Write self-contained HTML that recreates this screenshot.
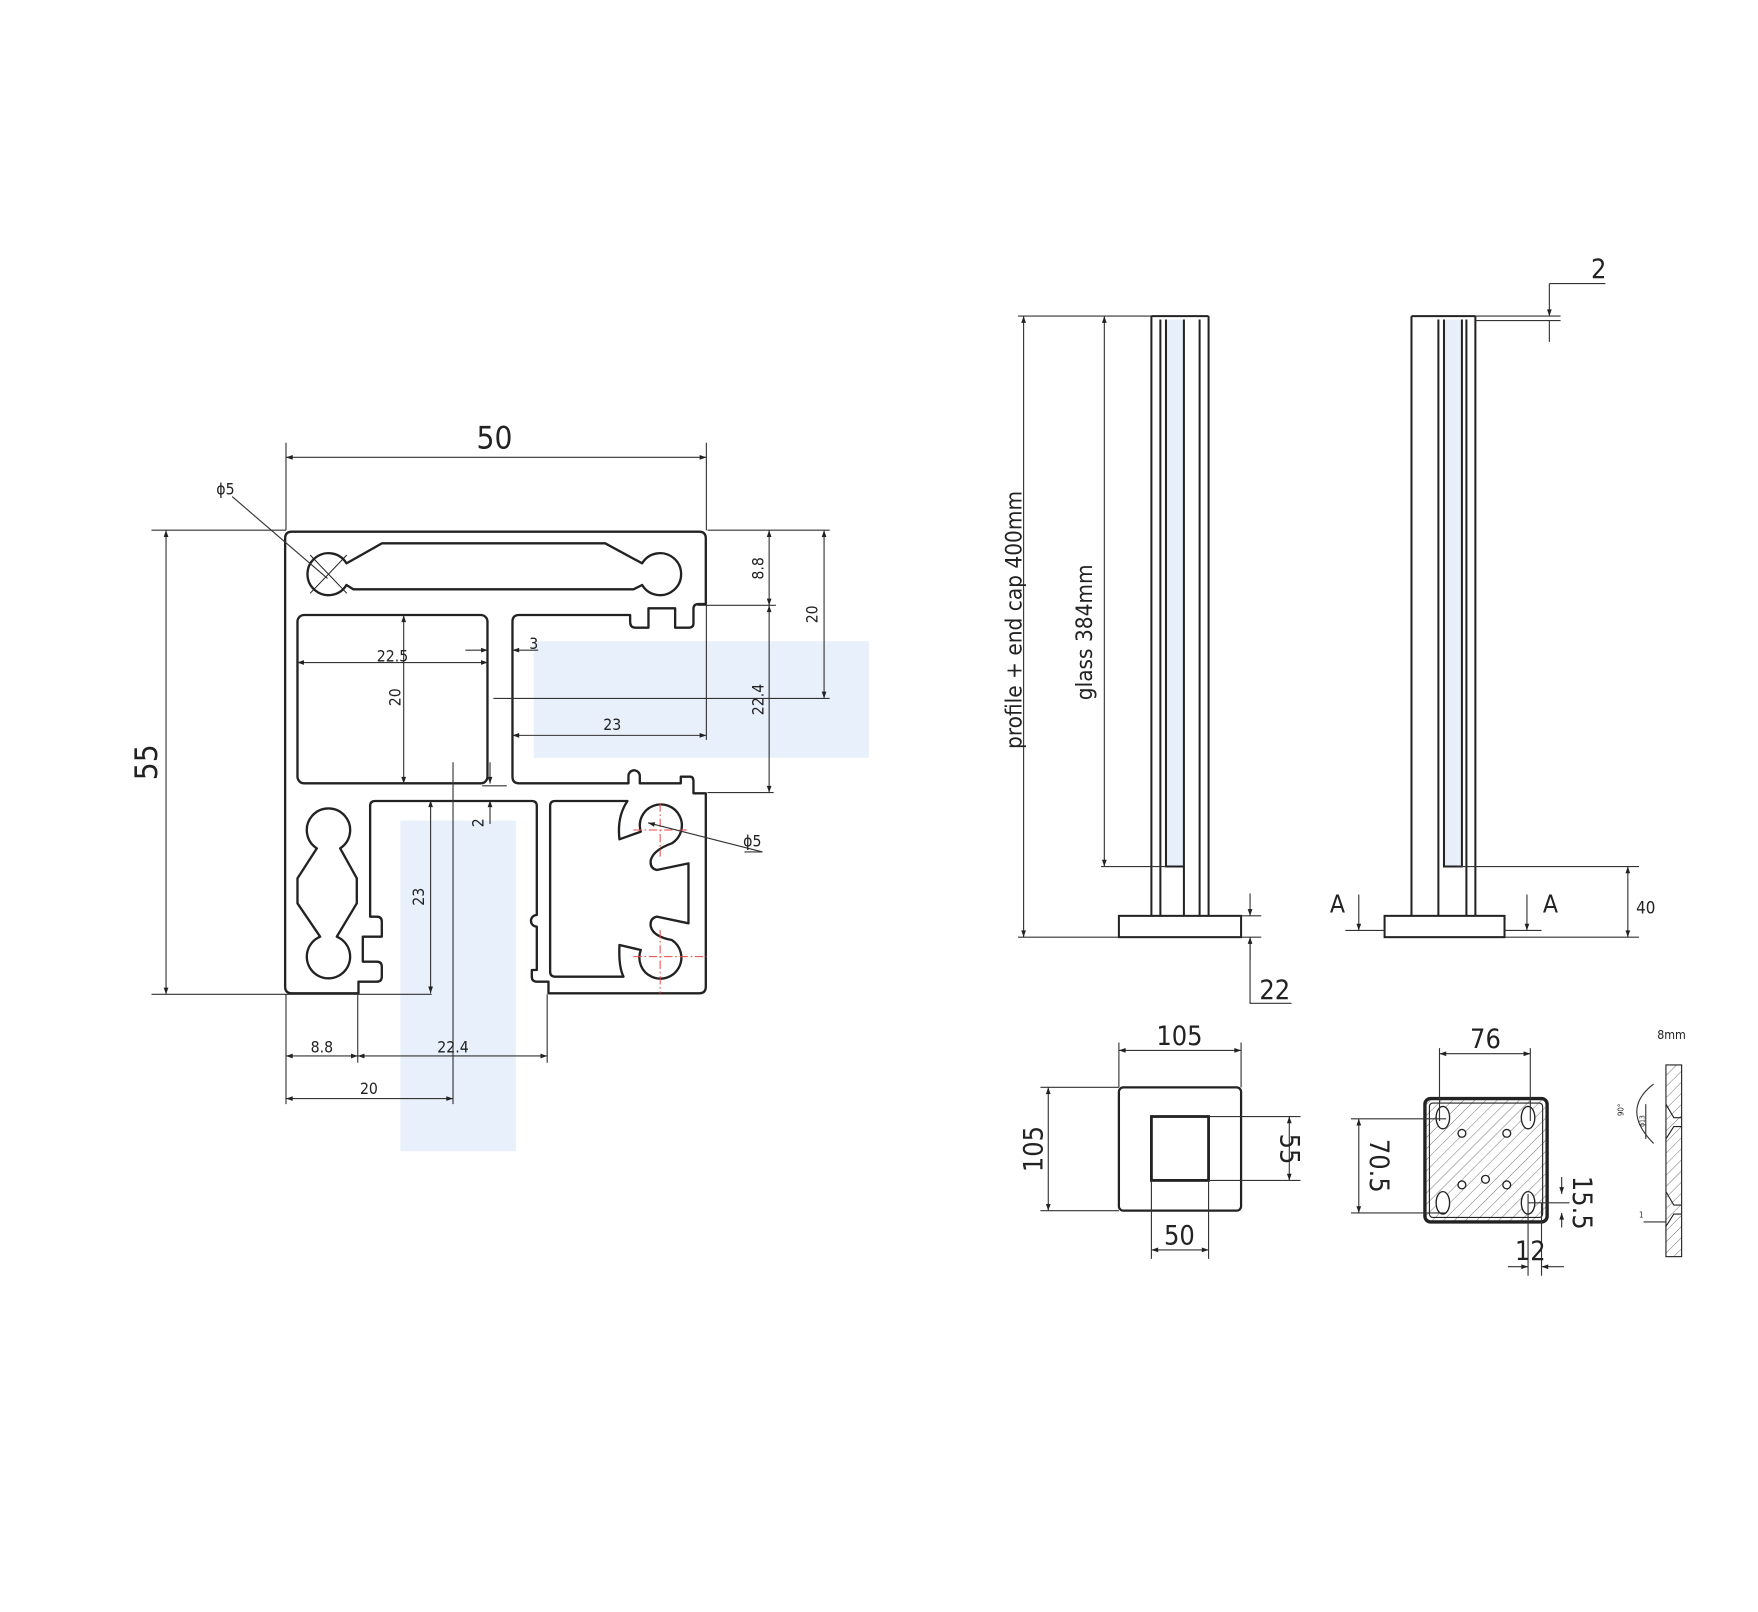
<!DOCTYPE html>
<html><head><meta charset="utf-8"><style>
html,body{margin:0;padding:0;background:#fff}
svg{display:block}
text{font-family:"DejaVu Sans Condensed","Liberation Sans Narrow","Liberation Sans",sans-serif;fill:#222}
</style></head><body>
<svg width="1758" height="1612" viewBox="0 0 1568 1438" xmlns="http://www.w3.org/2000/svg">
<defs>
<marker id="a" viewBox="0 0 10 10" refX="10" refY="5" markerWidth="9" markerHeight="6" orient="auto-start-reverse" markerUnits="userSpaceOnUse"><path d="M0,1.5 L10,5 L0,8.5z" fill="#222"/></marker>
<pattern id="h" width="7" height="7" patternUnits="userSpaceOnUse" patternTransform="rotate(45)"><line x1="0" y1="0" x2="0" y2="7" stroke="#666" stroke-width="0.8"/></pattern>
</defs>
<rect width="1568" height="1438" fill="#fff"/>
<rect x="476" y="572" width="299" height="104" fill="#e8f0fb"/>
<rect x="357" y="732" width="103" height="295" fill="#e8f0fb"/>

<g transform="translate(240.86,446.03) scale(0.29735)" fill="none" stroke="#222" stroke-width="7" stroke-linejoin="round">
<path d="M265,1480 H65 Q45,1480 45,1460 V115 Q45,95 65,95 H1287 Q1307,95 1307,115 V312 H1285 Q1270,312 1270,327 V370 Q1270,383 1255,383 H1215 V325 H1135 V383 H1095 Q1080,383 1080,365 V345 H747 Q727,345 727,365 V830 Q727,850 747,850 H1075 V828 A17,17 0 0 1 1109,828 V850 H1232 V830 H1260 Q1270,830 1270,845 V880 H1307 V1460 Q1307,1480 1287,1480 H835 V1445 H800 Q785,1445 785,1430 V1410 H800 V1280 A17,17 0 0 1 800,1245 V918 Q800,903 785,903 H315 Q300,903 300,918 V1250 H320 Q335,1250 335,1265 V1310 H278 V1385 H320 Q335,1385 335,1400 V1430 Q335,1445 320,1445 H265 Z"/>
<rect x="82" y="345" width="570" height="505" rx="20"/>
<path d="M229,190 L335,130 H1005 L1116,190 A63,63 0 1 1 1116,255 L1090,268 H250 L229,255 A63,63 0 1 1 229,190 Z"/>
<path d="M210,1045 L260,1135 V1210 L200,1310 A65,65 0 1 1 150,1310 L82,1210 V1135 L140,1045 A65,65 0 1 1 210,1045 Z"/>
<path d="M855,903 H1072 Q1040,950 1048,1018 L1112,995 A63,63 0 1 1 1205,1030 Q1150,1050 1142,1080 Q1138,1105 1160,1110 L1255,1090 V1270 L1160,1250 Q1138,1255 1142,1280 Q1150,1310 1205,1320 A63,63 0 1 1 1112,1350 L1048,1335 Q1045,1400 1060,1430 H855 Q840,1430 840,1415 V918 Q840,903 855,903 Z"/>
<g stroke="#e44" stroke-width="3" stroke-dasharray="25,8,5,8"><path d="M1090,990 H1250 M1170,910 V1070 M1090,1370 H1310 M1170,1290 V1480"/></g>
<g stroke-width="3"><path d="M120,165 L230,280 M230,165 L120,280"/></g>
</g>

<g fill="none" stroke="#333" stroke-width="1">
<path d="M255,395 V473 M630,395 V473"/>
<line x1="255" y1="408" x2="630" y2="408" marker-start="url(#a)" marker-end="url(#a)"/>
<line x1="207" y1="443" x2="292" y2="516"/>
<path d="M135,473 H255 M135,887 H385"/>
<line x1="148" y1="473" x2="148" y2="887" marker-start="url(#a)" marker-end="url(#a)"/>
<path d="M631,473 H740 M622,540 H692 M440,623 H740 M631,707 H690"/>
<line x1="686" y1="473" x2="686" y2="540" marker-start="url(#a)" marker-end="url(#a)"/>
<line x1="686" y1="540" x2="686" y2="707" marker-start="url(#a)" marker-end="url(#a)"/>
<line x1="735" y1="473" x2="735" y2="623" marker-start="url(#a)" marker-end="url(#a)"/>
<line x1="415" y1="580" x2="435" y2="580" marker-end="url(#a)"/>
<line x1="480" y1="580" x2="457" y2="580" marker-end="url(#a)"/>
<line x1="265" y1="591" x2="435" y2="591" marker-start="url(#a)" marker-end="url(#a)"/>
<line x1="360" y1="549" x2="360" y2="699" marker-start="url(#a)" marker-end="url(#a)"/>
<line x1="457" y1="656" x2="630" y2="656" marker-start="url(#a)" marker-end="url(#a)"/>
<path d="M630,540 V660"/>
<line x1="437" y1="680" x2="437" y2="699" marker-end="url(#a)"/>
<line x1="437" y1="735" x2="437" y2="714" marker-end="url(#a)"/>
<path d="M430,701 H452"/>
<line x1="384" y1="714" x2="384" y2="886" marker-start="url(#a)" marker-end="url(#a)"/>
<line x1="404" y1="680" x2="404" y2="985"/>
<line x1="680" y1="760" x2="578" y2="734" marker-end="url(#a)"/>
<path d="M664,760 H680"/>
<path d="M255,887 V985 M319,887 V948 M488,887 V948"/>
<line x1="255" y1="942" x2="319" y2="942" marker-start="url(#a)" marker-end="url(#a)"/>
<line x1="319" y1="942" x2="488" y2="942" marker-start="url(#a)" marker-end="url(#a)"/>
<line x1="255" y1="980" x2="404" y2="980" marker-start="url(#a)" marker-end="url(#a)"/>
</g>
<g font-size="28" text-anchor="middle">
<text x="441" y="400">50</text>
<text x="140" y="680" transform="rotate(-90 140 680)">55</text>
</g>
<g font-size="14" text-anchor="middle">
<text x="201" y="441">ϕ5</text>
<text x="350" y="590">22.5</text>
<text x="476" y="579">3</text>
<text x="546" y="651">23</text>
<text x="671" y="755">ϕ5</text>
<text x="287" y="939">8.8</text>
<text x="404" y="939">22.4</text>
<text x="329" y="976">20</text>
<text x="357" y="622" transform="rotate(-90 357 622)">20</text>
<text x="681" y="507" transform="rotate(-90 681 507)">8.8</text>
<text x="729" y="548" transform="rotate(-90 729 548)">20</text>
<text x="681" y="624" transform="rotate(-90 681 624)">22.4</text>
<text x="431" y="734" transform="rotate(-90 431 734)">2</text>
<text x="378" y="800" transform="rotate(-90 378 800)">23</text>
</g>

<g stroke="#222" fill="none">
<rect x="1040" y="285" width="16" height="488" fill="#e6effa" stroke="none"/>
<rect x="1288" y="285" width="16" height="488" fill="#e6effa" stroke="none"/>
<path d="M1027,282 H1078 M1027,282 V817 M1078,282 V817 M1035,285 V817 M1070,285 V817 M1040,285 V773 H1056 V285 M1056,773 V817" stroke-width="1.8"/>
<rect x="998" y="817" width="109" height="19" stroke-width="1.8"/>
<path d="M1259,282 H1316 M1259,282 V817 M1316,282 V817 M1283,285 V817 M1308,285 V817 M1288,285 V773 H1304 V285" stroke-width="1.8"/>
<rect x="1235" y="817" width="107" height="19" stroke-width="1.8"/>
</g>
<g fill="none" stroke="#333" stroke-width="1">
<path d="M908,282 H1027 M908,836 H998 M982,282 H1027 M982,773 H1040"/>
<line x1="913" y1="282" x2="913" y2="836" marker-start="url(#a)" marker-end="url(#a)"/>
<line x1="985" y1="282" x2="985" y2="773" marker-start="url(#a)" marker-end="url(#a)"/>
<path d="M1107,817 H1125 M1107,836 H1125 M1115,836 V895 H1152"/>
<line x1="1115" y1="797" x2="1115" y2="817" marker-end="url(#a)"/>
<line x1="1115" y1="856" x2="1115" y2="836" marker-end="url(#a)"/>
<path d="M1316,282 H1392 M1316,286 H1392 M1382,253 H1432 M1382,286 V305"/>
<line x1="1382" y1="253" x2="1382" y2="282" marker-end="url(#a)"/>
<path d="M1300,773 H1462 M1342,836 H1462 M1200,830 H1235 M1342,830 H1375"/>
<line x1="1452" y1="773" x2="1452" y2="836" marker-start="url(#a)" marker-end="url(#a)"/>
<line x1="1212" y1="798" x2="1212" y2="830" marker-end="url(#a)"/>
<line x1="1362" y1="798" x2="1362" y2="830" marker-end="url(#a)"/>
</g>
<g font-size="18" text-anchor="middle">
<text x="911" y="553" font-size="20" transform="rotate(-90 911 553)">profile + end cap 400mm</text>
<text x="974" y="564" font-size="20" transform="rotate(-90 974 564)">glass 384mm</text>
<text x="1426" y="248" font-size="24">2</text>
<text x="1137" y="891" font-size="24">22</text>
<text x="1193" y="814" font-size="22">A</text>
<text x="1383" y="814" font-size="22">A</text>
<text x="1468" y="815" font-size="15">40</text>
</g>

<g fill="none" stroke="#222">
<rect x="998" y="970" width="109" height="110" rx="4" stroke-width="2"/>
<rect x="1027" y="996" width="51" height="57" stroke-width="2.5"/>
<rect x="1271" y="980" width="109" height="110" rx="5" fill="url(#h)" stroke-width="3"/>
<rect x="1275" y="984" width="101" height="102" rx="3" stroke-width="1"/>
<g stroke-width="1.2" fill="#fff">
<ellipse cx="1287" cy="997" rx="6" ry="10"/><ellipse cx="1363" cy="997" rx="6" ry="10"/>
<ellipse cx="1287" cy="1073" rx="6" ry="10"/><ellipse cx="1363" cy="1073" rx="6" ry="10"/>
<circle cx="1304" cy="1011" r="3.5"/><circle cx="1344" cy="1011" r="3.5"/>
<circle cx="1304" cy="1057" r="3.5"/><circle cx="1325" cy="1052" r="3.5"/><circle cx="1344" cy="1057" r="3.5"/>
</g>
<rect x="1486" y="950" width="14" height="171" fill="url(#h)" stroke-width="1"/>
<path d="M1486,985 L1493,997 H1500 M1486,1016 L1493,1005 H1500 M1486,1063 L1493,1075 H1500 M1486,1094 L1493,1083 H1500" stroke-width="1"/>
</g>
<g fill="none" stroke="#333" stroke-width="1">
<path d="M998,930 V970 M1107,930 V970 M928,970 H998 M928,1080 H998 M1078,996 H1160 M1078,1053 H1160 M1027,1053 V1123 M1078,1053 V1123"/>
<line x1="998" y1="937" x2="1107" y2="937" marker-start="url(#a)" marker-end="url(#a)"/>
<line x1="935" y1="970" x2="935" y2="1080" marker-start="url(#a)" marker-end="url(#a)"/>
<line x1="1150" y1="996" x2="1150" y2="1053" marker-start="url(#a)" marker-end="url(#a)"/>
<line x1="1027" y1="1115" x2="1078" y2="1115" marker-start="url(#a)" marker-end="url(#a)"/>
<path d="M1284,935 V1000 M1365,935 V1000 M1205,998 H1290 M1205,1082 H1290 M1363,1073 H1400 M1363,1065 V1138 M1375,1073 V1138"/>
<line x1="1284" y1="940" x2="1365" y2="940" marker-start="url(#a)" marker-end="url(#a)"/>
<line x1="1212" y1="998" x2="1212" y2="1082" marker-start="url(#a)" marker-end="url(#a)"/>
<line x1="1393" y1="1050" x2="1393" y2="1065" marker-end="url(#a)"/>
<line x1="1393" y1="1095" x2="1393" y2="1082" marker-end="url(#a)"/>
<line x1="1345" y1="1130" x2="1363" y2="1130" marker-end="url(#a)"/>
<line x1="1395" y1="1130" x2="1375" y2="1130" marker-end="url(#a)"/>
<path d="M1475,967 Q1445,990 1475,1020 M1468,985 V1016 M1466,1090 H1486"/>
</g>
<g text-anchor="middle" font-size="24">
<text x="1052" y="932">105</text>
<text x="1052" y="1110">50</text>
<text x="930" y="1025" transform="rotate(-90 930 1025)">105</text>
<text x="1142" y="1025" transform="rotate(90 1142 1025)">55</text>
<text x="1325" y="935">76</text>
<text x="1222" y="1040" transform="rotate(90 1222 1040)">70.5</text>
<text x="1403" y="1073" transform="rotate(90 1403 1073)">15.5</text>
<text x="1365" y="1124">12</text>
<text x="1491" y="927" font-size="11">8mm</text>
<text x="1448" y="990" font-size="7" transform="rotate(-90 1448 990)">90°</text>
<text x="1467" y="1000" font-size="6" transform="rotate(-90 1467 1000)">ϕ13</text>
<text x="1464" y="1086" font-size="7">1</text>
</g>
</svg>
</body></html>
